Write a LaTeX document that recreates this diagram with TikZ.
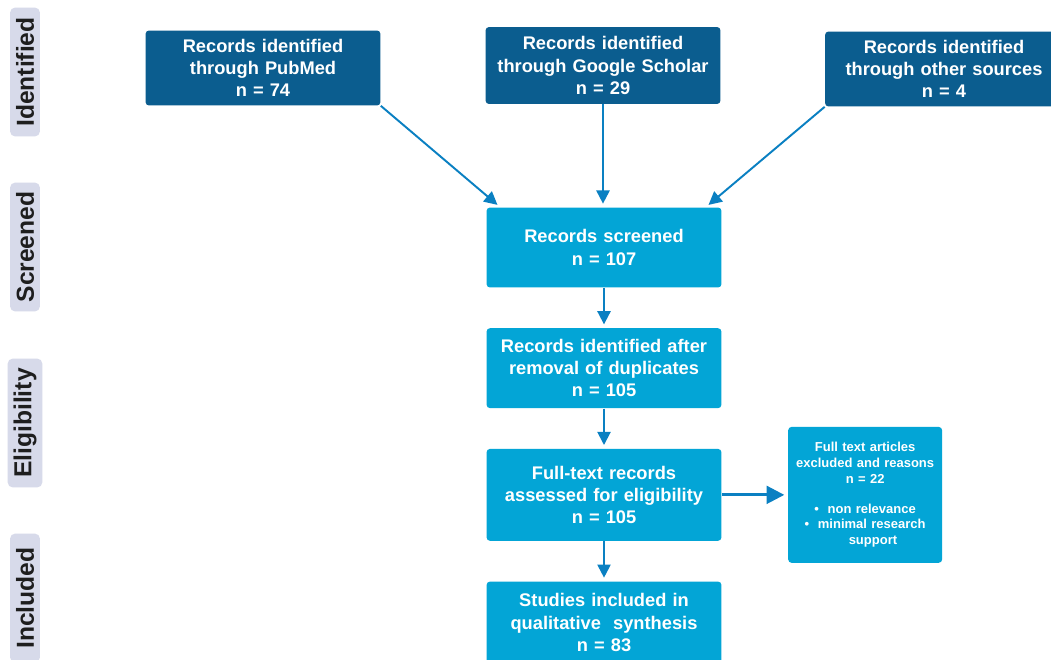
\documentclass[tikz,border=0pt]{standalone}
\usepackage{fontspec}
\setmainfont{Liberation Sans}
\usetikzlibrary{arrows.meta, positioning}
\definecolor{navy}     {HTML}{0B5D8F}
\definecolor{sky}      {HTML}{03A5D6}
\definecolor{arrowblue}{HTML}{0A80C2}
\definecolor{tag}      {HTML}{D7DAEA}
\definecolor{ink}      {HTML}{1E1E1E}
\tikzset{
  box/.style    = {rounded corners=2pt, text=white,
                   minimum width=4.7cm, minimum height=1.6cm,
                   text width=4.4cm, align=center,
                   font=\bfseries\fontsize{10.4}{12.6}\selectfont},
  src/.style    = {box, fill=navy, minimum height=1.5cm},
  stage/.style  = {box, fill=sky},
  note/.style   = {rounded corners=2pt, fill=sky, text=white,
                   minimum width=3.08cm, minimum height=2.72cm,
                   text width=2.9cm, inner sep=2pt, align=center,
                   font=\bfseries\fontsize{7.4}{9}\selectfont},
  phase/.style  = {fill=tag, rounded corners=3pt, rotate=90,
                   minimum width=2.58cm, minimum height=0.6cm,
                   font=\bfseries\fontsize{14}{16}\selectfont, text=ink},
  arr/.style    = {-{Triangle[length=7.5pt,width=7.5pt]}, line width=1.1pt,
                   arrowblue, shorten >=2pt},
  warr/.style   = {arr, line width=1.6pt,
                   -{Triangle[length=10pt,width=10pt]}},
}
\begin{document}
\begin{tikzpicture}[x=0.02cm, y=-0.02cm]

  \clip (0,0) rectangle (1051,659);
  \fill[white] (0,0) rectangle (1051,659);

  % phase labels
  \node[phase] (pid) at (25,72)  {Identified};
  \node[phase] (psc) at (25,247) {Screened};
  \node[phase] (pel) at (25,423) {Eligibility};
  \node[phase] (pin) at (25,598) {Included};

  % sources
  \node[src] (pub) at (263,68)   {Records identified\\through PubMed\\n = 74};
  \node[src, minimum height=1.54cm] (gs) at (603,65.5)
    {Records identified\\through Google Scholar\\n = 29};
  \node[src, minimum width=4.76cm] (oth) at (944,69)
    {Records identified\\through other sources\\n = 4};

  % main chain
  \node[stage] (scr) at (604,247.5) {Records screened\\n = 107};
  \node[stage, below=0.8cm of scr] (dup)
    {Records identified after\\removal of duplicates\\n = 105};
  \node[stage, minimum height=1.84cm, below=0.8cm of dup] (full)
    {Full-text records\\assessed for eligibility\\n = 105};
  \node[stage, minimum height=1.64cm, below=0.8cm of full] (inc)
    {Studies included in\\qualitative~ synthesis\\n = 83};

  \node[note, right=1.32cm of full] (exc) {%
    Full text articles\\
    excluded and reasons\\
    n = 22\\[8pt]
    \textbullet~ non relevance\\
    \textbullet~ minimal research\\
    \hspace{1.2em}support};

  \draw[arr] (pub.south east) -- ([xshift=0.28cm]scr.north west);
  \draw[arr] (gs) -- (gs |- scr.north);
  \draw[arr] (oth.south west) -- ([xshift=-0.32cm]scr.north east);
  \foreach \a/\b in {scr/dup, dup/full, full/inc}
    \draw[arr] (\a) -- (\b);
  \draw[warr] (full) -- (exc);

\end{tikzpicture}
\end{document}
